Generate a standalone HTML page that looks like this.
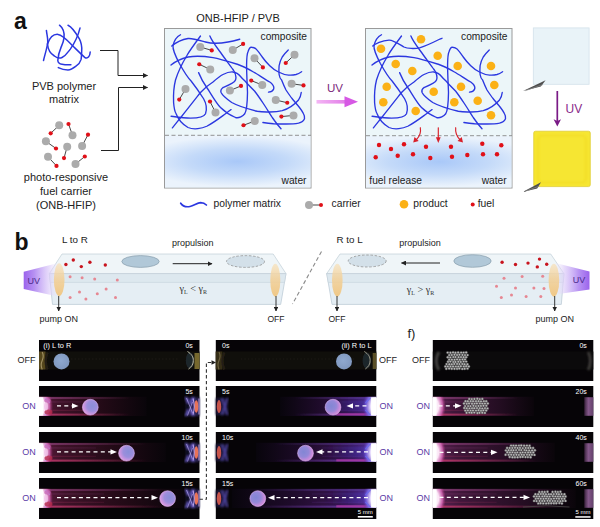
<!DOCTYPE html>
<html lang="en"><head><meta charset="utf-8"><title>Figure</title>
<style>
html,body{margin:0;padding:0;background:#fff;}
body{width:600px;height:527px;overflow:hidden;}
svg{display:block;font-family:"Liberation Sans",Arial,sans-serif;}
.ser{font-family:"Liberation Serif","Times New Roman",serif;}
</style></head><body>
<svg width="600" height="527" viewBox="0 0 600 527">
<defs>
<radialGradient id="water" cx="0.5" cy="0.5" r="0.5" gradientTransform="translate(0.5 0.5) scale(1.4 0.97) translate(-0.5 -0.5)">
<stop offset="0" stop-color="#a9c8f8"/><stop offset="0.5" stop-color="#c4daf9"/><stop offset="1" stop-color="#ebf3fc"/>
</radialGradient>
<linearGradient id="uvarrow" x1="0" x2="1" y1="0" y2="0">
<stop offset="0" stop-color="#f4b6f4"/><stop offset="1" stop-color="#e27ee8"/>
</linearGradient>
<linearGradient id="uvL" x1="0" x2="1" y1="0" y2="0">
<stop offset="0" stop-color="#9b63ec"/><stop offset="0.3" stop-color="#b48df2" stop-opacity="0.95"/><stop offset="0.7" stop-color="#ddcdf9" stop-opacity="0.7"/><stop offset="1" stop-color="#f0e8fc" stop-opacity="0"/>
</linearGradient>
<linearGradient id="uvR" x1="1" x2="0" y1="0" y2="0">
<stop offset="0" stop-color="#9b63ec"/><stop offset="0.3" stop-color="#b48df2" stop-opacity="0.95"/><stop offset="0.7" stop-color="#ddcdf9" stop-opacity="0.7"/><stop offset="1" stop-color="#f0e8fc" stop-opacity="0"/>
</linearGradient>
<marker id="ah" viewBox="0 0 10 10" refX="9" refY="5" markerWidth="5" markerHeight="5" orient="auto"><path d="M0,0 L10,5 L0,10 z" fill="#222"/></marker>
<filter id="b1"><feGaussianBlur stdDeviation="1"/></filter>
<filter id="b2"><feGaussianBlur stdDeviation="2"/></filter>
<filter id="b05"><feGaussianBlur stdDeviation="0.5"/></filter>
<radialGradient id="discOff" cx="0.45" cy="0.45" r="0.6"><stop offset="0" stop-color="#8fa9cf"/><stop offset="1" stop-color="#7f97bd"/></radialGradient>
<radialGradient id="discOn" cx="0.62" cy="0.42" r="0.66"><stop offset="0" stop-color="#8a8ed8"/><stop offset="0.5" stop-color="#9c8edc"/><stop offset="0.82" stop-color="#cf96e0"/><stop offset="1" stop-color="#e6a4e6"/></radialGradient>
<radialGradient id="discOn2" cx="0.38" cy="0.42" r="0.66"><stop offset="0" stop-color="#8286d4"/><stop offset="0.5" stop-color="#9488d8"/><stop offset="0.82" stop-color="#c88ada"/><stop offset="1" stop-color="#dc98e2"/></radialGradient>
</defs>
<rect width="600" height="527" fill="#fff"/>

<g id="panel-a">
<text x="14" y="29.3" font-size="23" text-anchor="start" fill="#111" font-weight="bold">a</text>
<g fill="none" stroke="#2b37e0" stroke-width="1.5" stroke-linecap="round">
<path d="M46.4 30.4 C47 36 48.5 40 47.5 44 C46.5 50 44.5 56 43.5 60.5"/>
<path d="M47.5 44 C50 37 54 34 58 34.4 C63 35 68 41 72.6 45.7 C78 51 82 55 85.1 57.7 C88 59 90 56 90.2 52"/>
<path d="M47.5 44 C48 50 51 54 54.4 56 C57 58 60 58.5 62 57.5 C66 55.5 68 52 70.3 49.1 C74 44 78 36 80 28.1"/>
<path d="M59.5 25.2 C63 28 64.5 33 64 37.8 C63.5 42 62 45 61.2 46.9 C59.5 51 58 56 57.8 60.5 C58 63 60 64 62 64.2 C65 64.8 68 64.8 70.9 64.7"/>
<path d="M68 25.2 C72 27 76 33 79.4 38.9 C81.5 43 82 47 81.7 51 C81.5 55 81.5 57 81.1 59.4 C80 63 78 65 76 66.2 C73 68.5 70.5 70 68 70 C64 70 61 69 58.3 67.6"/>
</g>
<text x="64" y="89.5" font-size="11" text-anchor="middle" fill="#222" >PVB polymer</text>
<text x="64" y="102.5" font-size="11" text-anchor="middle" fill="#222" >matrix</text>
<g fill="none" stroke="#222" stroke-width="1">
<path d="M100 50.5 H118 V75.5 H147.5" marker-end="url(#ah)"/>
<path d="M101 150.5 H118.5 V87.5 H147.5" marker-end="url(#ah)"/>
</g>
<line x1="59.2" y1="125.3" x2="50.7" y2="133.3" stroke="#333" stroke-width="0.9"/>
<circle cx="59.2" cy="125.3" r="4.0" fill="#ababab"/>
<circle cx="50.7" cy="133.3" r="2.1" fill="#e01018"/>
<line x1="72.5" y1="135.2" x2="68.5" y2="124" stroke="#333" stroke-width="0.9"/>
<circle cx="72.5" cy="135.2" r="4.0" fill="#ababab"/>
<circle cx="68.5" cy="124" r="2.1" fill="#e01018"/>
<line x1="45.9" y1="141.3" x2="56" y2="148.5" stroke="#333" stroke-width="0.9"/>
<circle cx="45.9" cy="141.3" r="4.0" fill="#ababab"/>
<circle cx="56" cy="148.5" r="2.1" fill="#e01018"/>
<line x1="67.2" y1="146.7" x2="64" y2="158.1" stroke="#333" stroke-width="0.9"/>
<circle cx="67.2" cy="146.7" r="4.0" fill="#ababab"/>
<circle cx="64" cy="158.1" r="2.1" fill="#e01018"/>
<line x1="82.1" y1="145.9" x2="88" y2="134.7" stroke="#333" stroke-width="0.9"/>
<circle cx="82.1" cy="145.9" r="4.0" fill="#ababab"/>
<circle cx="88" cy="134.7" r="2.1" fill="#e01018"/>
<line x1="48" y1="156.8" x2="56.5" y2="165.9" stroke="#333" stroke-width="0.9"/>
<circle cx="48" cy="156.8" r="4.0" fill="#ababab"/>
<circle cx="56.5" cy="165.9" r="2.1" fill="#e01018"/>
<line x1="75.5" y1="164" x2="84.8" y2="156.5" stroke="#333" stroke-width="0.9"/>
<circle cx="75.5" cy="164" r="4.0" fill="#ababab"/>
<circle cx="84.8" cy="156.5" r="2.1" fill="#e01018"/>
<text x="66" y="181" font-size="11" text-anchor="middle" fill="#222" >photo-responsive</text>
<text x="66" y="195" font-size="11" text-anchor="middle" fill="#222" >fuel carrier</text>
<text x="66" y="209" font-size="11" text-anchor="middle" fill="#222" >(ONB-HFIP)</text>
<text x="238" y="21.5" font-size="11" text-anchor="middle" fill="#222" >ONB-HFIP / PVB</text>
<rect x="164.5" y="28.5" width="146.5" height="159.5" fill="#ecf6f9" stroke="#9a9a9a" stroke-width="1"/>
<rect x="165" y="135.5" width="145.5" height="52" fill="url(#water)"/>
<line x1="165" y1="135.3" x2="311" y2="135.3" stroke="#888" stroke-width="0.9" stroke-dasharray="4 2.5"/>
<text x="307" y="40" font-size="10.2" text-anchor="end" fill="#222" >composite</text>
<text x="306.5" y="183.5" font-size="10.2" text-anchor="end" fill="#222" >water</text>
<g fill="none" stroke="#2b37e0" stroke-width="1.35" stroke-linecap="round" transform="translate(0 0)">
<path d="M180.5 34.75 C177 36.5 174 41 173 45.75 C172.5 50 176 57 179.25 63.25 C183 70 187 77 191.1 81 C195 86 200 93 203.6 98.75 C206 103 207.5 108 205.5 113.75 C204 117 198 118 190.5 118.1 C184 118 177 117 171.1 116.25"/>
<path d="M171.75 46 C176 42.5 182 39.5 188 38.5 C193 38 200 40.5 205.5 42 C211 43.5 220 43.5 228 42 C232 41.3 237 40 239.75 39.25"/>
<path d="M200.5 36 C196 42 190 50 186.75 55.75 C183 62 178 72 175.5 80 C174 86 173.3 96 173.6 102.5 C174 108 175 112 176.1 113.75 C178 119 182 124 188 127.5 C194 130 202 128.5 206.75 126.25 C214 122.5 221 117 225.5 113.75 C228 112 230 110.5 231.1 109.6"/>
<path d="M171 65.1 C174 62.5 182 58.5 188 57 C194 56 206 56.5 213 57.6 C220 58.8 230 62 238 64.5 C244 66.5 250 70 253.5 72 C258 74.5 266 80 269.75 82 C272.5 84 274.5 87 273.5 89.4 C272.5 91.5 270.5 92 268.5 92.1"/>
<path d="M209.9 36 C211 39 215 45 219.25 50.75 C223 56 229 64 233 69.5 C235.5 73 236.5 77 235.5 80 C234.5 83 228 85.5 223 87.5 C221 89 220.5 91 221.1 92.5 C222 94.5 226 98.5 231.75 102.5 C238 106 250 109.5 257.25 111.25 C264 112.6 276 112 282.25 110.6 C288 109 295 104 298.5 100 C300.5 97 301 95 301.25 92.5"/>
<path d="M198.6 72.6 C200 76 202 81 206.75 87.5 C210 92 216 103 220.5 107.5 C225 112 232 116 235.5 117.5 C239 118.5 243 116 244.75 113.75 C247 110 247.4 100 247.5 92.5 C247.3 86 246.5 72 246.6 64.5 C246.7 58 247 54 247.9 52 C249 48.5 250.5 47 251.6 47.25 C253.5 47.5 255 48 256 48.9 C258.5 51.5 260.5 54.5 262.25 57 C265 61 268 64 269.75 65.75 C273 69 276 70.8 278.5 72 C282 73.8 286 75 288.5 75.1 C291 75.3 294 75 296 74.5 C298.5 73.8 300.5 72.5 301.6 71.75"/>
<path d="M172.4 127.9 C176 123.5 179 119.5 181.75 116.25 C186 111 195 99.5 200.5 92.5 C204 88.5 209 84.5 213 82 C217 78.5 220 76 223 74.5 C227 72.5 231 71.8 233 72 C236 72.2 238.5 74 241 77 C243 79.3 245 81 246.3 82.5 C249 85.5 252 88.5 254.75 91.25 C258 95.5 261 100 263.5 103.75 C267 109 270 114 272.25 117.5 C275 121.5 278 125.5 281 128.75"/>
<path d="M288.25 49.9 C286 52 284 54.5 282.25 57 C280.5 60 279.5 63 279.1 65.75 C278.8 69 278.8 72 279.1 74.5 C279.5 77 280.5 79 281.6 80 C283 83.5 284.5 87 286 90 C288 93 290 96 292.25 98.75 C294.5 101.5 296.5 104 298.5 106.25 C300.5 108.8 302.5 111.5 303.5 113.75 C304.5 115.5 304.8 117 304.5 118.75 C303.5 121.5 301 122.5 298.5 123.1 C294 124 290 124 286 124 C282 124 278 123.9 273.5 123.75 C270 123.5 266 123 262.9 122.5"/>
</g>
<line x1="200.25" y1="47" x2="211.75" y2="50.4" stroke="#333" stroke-width="0.9"/>
<circle cx="200.25" cy="47" r="4" fill="#ababab"/>
<circle cx="211.75" cy="50.4" r="2.1" fill="#e01018"/>
<line x1="232.75" y1="50.1" x2="243.1" y2="43.9" stroke="#333" stroke-width="0.9"/>
<circle cx="232.75" cy="50.1" r="4" fill="#ababab"/>
<circle cx="243.1" cy="43.9" r="2.1" fill="#e01018"/>
<line x1="210.25" y1="69.5" x2="199.25" y2="64.25" stroke="#333" stroke-width="0.9"/>
<circle cx="210.25" cy="69.5" r="4" fill="#ababab"/>
<circle cx="199.25" cy="64.25" r="2.1" fill="#e01018"/>
<line x1="185.5" y1="89" x2="179.25" y2="99.6" stroke="#333" stroke-width="0.9"/>
<circle cx="185.5" cy="89" r="4" fill="#ababab"/>
<circle cx="179.25" cy="99.6" r="2.1" fill="#e01018"/>
<line x1="215.5" y1="112.5" x2="210" y2="101.5" stroke="#333" stroke-width="0.9"/>
<circle cx="215.5" cy="112.5" r="4" fill="#ababab"/>
<circle cx="210" cy="101.5" r="2.1" fill="#e01018"/>
<line x1="229.9" y1="90.6" x2="241" y2="85.9" stroke="#333" stroke-width="0.9"/>
<circle cx="229.9" cy="90.6" r="4" fill="#ababab"/>
<circle cx="241" cy="85.9" r="2.1" fill="#e01018"/>
<line x1="254.5" y1="58.25" x2="262.9" y2="67.4" stroke="#333" stroke-width="0.9"/>
<circle cx="254.5" cy="58.25" r="4" fill="#ababab"/>
<circle cx="262.9" cy="67.4" r="2.1" fill="#e01018"/>
<line x1="294.5" y1="54.75" x2="285.75" y2="63" stroke="#333" stroke-width="0.9"/>
<circle cx="294.5" cy="54.75" r="4" fill="#ababab"/>
<circle cx="285.75" cy="63" r="2.1" fill="#e01018"/>
<line x1="262.25" y1="85" x2="251.25" y2="80.6" stroke="#333" stroke-width="0.9"/>
<circle cx="262.25" cy="85" r="4" fill="#ababab"/>
<circle cx="251.25" cy="80.6" r="2.1" fill="#e01018"/>
<line x1="291.6" y1="83.75" x2="303.5" y2="85.4" stroke="#333" stroke-width="0.9"/>
<circle cx="291.6" cy="83.75" r="4" fill="#ababab"/>
<circle cx="303.5" cy="85.4" r="2.1" fill="#e01018"/>
<line x1="275.75" y1="100" x2="287.25" y2="102.75" stroke="#333" stroke-width="0.9"/>
<circle cx="275.75" cy="100" r="4" fill="#ababab"/>
<circle cx="287.25" cy="102.75" r="2.1" fill="#e01018"/>
<line x1="293.5" y1="115.4" x2="281.4" y2="116.6" stroke="#333" stroke-width="0.9"/>
<circle cx="293.5" cy="115.4" r="4" fill="#ababab"/>
<circle cx="281.4" cy="116.6" r="2.1" fill="#e01018"/>
<line x1="254.75" y1="121" x2="243.5" y2="125.25" stroke="#333" stroke-width="0.9"/>
<circle cx="254.75" cy="121" r="4" fill="#ababab"/>
<circle cx="243.5" cy="125.25" r="2.1" fill="#e01018"/>
<path d="M180.7 203.2 C182.5 206 186 207.2 190 206.5 C194 205.8 197 202.8 200.7 202.7 C203 202.7 205 203.6 206.4 205" fill="none" stroke="#2b37e0" stroke-width="1.7" stroke-linecap="round"/>
<text x="213.5" y="207.3" font-size="10.3" text-anchor="start" fill="#222" >polymer matrix</text>
<line x1="309" y1="205" x2="321" y2="205" stroke="#333" stroke-width="0.9"/>
<circle cx="309" cy="205" r="4" fill="#ababab"/>
<circle cx="321" cy="205" r="2" fill="#e01018"/>
<text x="331.5" y="207.3" font-size="10.3" text-anchor="start" fill="#222" >carrier</text>
<circle cx="404" cy="204.3" r="4.3" fill="#fbb116"/>
<text x="413.3" y="207.3" font-size="10.3" text-anchor="start" fill="#222" >product</text>
<circle cx="472.7" cy="204.6" r="2" fill="#e01018"/>
<text x="477.7" y="207.3" font-size="10.3" text-anchor="start" fill="#222" >fuel</text>
<text x="335" y="91.8" font-size="11.6" text-anchor="middle" fill="#7c2a7c" >UV</text>
<rect x="316.5" y="100" width="29" height="3.6" fill="url(#uvarrow)"/>
<path d="M344.5 96.2 L358 101.8 L344.5 107.3 z" fill="#d658e4"/>
<rect x="365.5" y="28.5" width="146.5" height="159.5" fill="#ecf6f9" stroke="#9a9a9a" stroke-width="1"/>
<rect x="366" y="136" width="145.5" height="51.5" fill="url(#water)"/>
<line x1="366" y1="135.7" x2="512" y2="135.7" stroke="#888" stroke-width="0.9" stroke-dasharray="4 2.5"/>
<text x="507.5" y="40" font-size="10.2" text-anchor="end" fill="#222" >composite</text>
<text x="506.7" y="183.5" font-size="10.2" text-anchor="end" fill="#222" >water</text>
<text x="369.3" y="183.5" font-size="10.2" text-anchor="start" fill="#222" >fuel release</text>
<g fill="none" stroke="#2b37e0" stroke-width="1.35" stroke-linecap="round" transform="translate(201 0)">
<path d="M180.5 34.75 C177 36.5 174 41 173 45.75 C172.5 50 176 57 179.25 63.25 C183 70 187 77 191.1 81 C195 86 200 93 203.6 98.75 C206 103 207.5 108 205.5 113.75 C204 117 198 118 190.5 118.1 C184 118 177 117 171.1 116.25"/>
<path d="M171.75 46 C174 43.5 181 40.5 188 40.1 C192 40 198 44 203 47 C206 48.6 214 49 219.25 47.6 C224 46.2 233 42 238 39.5 C239 39 240 38.6 241 38.3"/>
<path d="M200.5 36 C196 42 190 50 186.75 55.75 C183 62 178 72 175.5 80 C174 86 173.3 96 173.6 102.5 C174 108 175 112 176.1 113.75 C178 119 182 124 188 127.5 C194 130 202 128.5 206.75 126.25 C214 122.5 221 117 225.5 113.75 C228 112 230 110.5 231.1 109.6"/>
<path d="M171 65.1 C174 62.5 182 58.5 188 57 C194 56 206 56.5 213 57.6 C220 58.8 230 62 238 64.5 C244 66.5 250 70 253.5 72 C258 74.5 266 80 269.75 82 C272.5 84 274.5 87 273.5 89.4 C272.5 91.5 270.5 92 268.5 92.1"/>
<path d="M209.9 36 C211 39 215 45 219.25 50.75 C223 56 229 64 233 69.5 C235.5 73 236.5 77 235.5 80 C234.5 83 228 85.5 223 87.5 C221 89 220.5 91 221.1 92.5 C222 94.5 226 98.5 231.75 102.5 C238 106 250 109.5 257.25 111.25 C264 112.6 276 112 282.25 110.6 C288 109 295 104 298.5 100 C300.5 97 301 95 301.25 92.5"/>
<path d="M198.6 72.6 C200 76 202 81 206.75 87.5 C210 92 216 103 220.5 107.5 C225 112 232 116 235.5 117.5 C239 118.5 243 116 244.75 113.75 C247 110 247.4 100 247.5 92.5 C247.3 86 246.5 72 246.6 64.5 C246.7 58 247 54 247.9 52 C249 48.5 250.5 47 251.6 47.25 C253.5 47.5 255 48 256 48.9 C258.5 51.5 260.5 54.5 262.25 57 C265 61 268 64 269.75 65.75 C273 69 276 70.8 278.5 72 C282 73.8 286 75 288.5 75.1 C291 75.3 294 75 296 74.5 C298.5 73.8 300.5 72.5 301.6 71.75"/>
<path d="M172.4 127.9 C176 123.5 179 119.5 181.75 116.25 C186 111 195 99.5 200.5 92.5 C204 88.5 209 84.5 213 82 C217 78.5 220 76 223 74.5 C227 72.5 231 71.8 233 72 C236 72.2 238.5 74 241 77 C243 79.3 245 81 246.3 82.5 C249 85.5 252 88.5 254.75 91.25 C258 95.5 261 100 263.5 103.75 C267 109 270 114 272.25 117.5 C275 121.5 278 125.5 281 128.75"/>
<path d="M288.25 49.9 C286 52 284 54.5 282.25 57 C280.5 60 279.5 63 279.1 65.75 C278.8 69 278.8 72 279.1 74.5 C279.5 77 280.5 79 281.6 80 C283 83.5 284.5 87 286 90 C288 93 290 96 292.25 98.75 C294.5 101.5 296.5 104 298.5 106.25 C300.5 108.8 302.5 111.5 303.5 113.75 C304.5 115.5 304.8 117 304.5 118.75 C303.5 121.5 301 122.5 298.5 123.1 C294 124 290 124 286 124 C282 124 278 123.9 273.5 123.75 C270 123.5 266 123 262.9 122.5"/>
</g>
<circle cx="421" cy="39.3" r="4.3" fill="#fbb116"/>
<circle cx="381" cy="48.7" r="4.3" fill="#fbb116"/>
<circle cx="437.7" cy="55.7" r="4.3" fill="#fbb116"/>
<circle cx="395.7" cy="64" r="4.3" fill="#fbb116"/>
<circle cx="457.7" cy="66" r="4.3" fill="#fbb116"/>
<circle cx="491" cy="66" r="4.3" fill="#fbb116"/>
<circle cx="412.3" cy="71" r="4.3" fill="#fbb116"/>
<circle cx="386.7" cy="86.7" r="4.3" fill="#fbb116"/>
<circle cx="461" cy="86.7" r="4.3" fill="#fbb116"/>
<circle cx="494.3" cy="85" r="4.3" fill="#fbb116"/>
<circle cx="433.7" cy="91.7" r="4.3" fill="#fbb116"/>
<circle cx="383.3" cy="102.3" r="4.3" fill="#fbb116"/>
<circle cx="454.3" cy="102.3" r="4.3" fill="#fbb116"/>
<circle cx="477.7" cy="100.7" r="4.3" fill="#fbb116"/>
<circle cx="415.7" cy="111" r="4.3" fill="#fbb116"/>
<circle cx="491" cy="115.3" r="4.3" fill="#fbb116"/>
<g fill="none" stroke="#d8202a" stroke-width="1.15" stroke-linecap="round">
<path d="M420.3 127.7 C421.2 132.5 420 136 416.5 139.5"/><path d="M413.2 142.6 l1.3 -5.6 l4.2 3.9 z" fill="#d8202a" stroke="none"/>
<path d="M438.3 127.7 V138"/><path d="M438.3 143 l-2.4 -5.8 h4.8 z" fill="#d8202a" stroke="none"/>
<path d="M455.7 127.7 C455.2 132.5 456.5 136 459.8 139.5"/><path d="M463 142.6 l-1.3 -5.6 l-4.2 3.9 z" fill="#d8202a" stroke="none"/>
</g>
<circle cx="379" cy="145" r="2.2" fill="#e01018"/>
<circle cx="391" cy="149" r="2.2" fill="#e01018"/>
<circle cx="404" cy="144.3" r="2.2" fill="#e01018"/>
<circle cx="426" cy="146.7" r="2.2" fill="#e01018"/>
<circle cx="451" cy="146.7" r="2.2" fill="#e01018"/>
<circle cx="482.3" cy="143.7" r="2.2" fill="#e01018"/>
<circle cx="501.3" cy="145.3" r="2.2" fill="#e01018"/>
<circle cx="375.7" cy="157.3" r="2.2" fill="#e01018"/>
<circle cx="397.7" cy="155.7" r="2.2" fill="#e01018"/>
<circle cx="413" cy="154.3" r="2.2" fill="#e01018"/>
<circle cx="430.3" cy="158" r="2.2" fill="#e01018"/>
<circle cx="452" cy="156.7" r="2.2" fill="#e01018"/>
<circle cx="467.3" cy="155" r="2.2" fill="#e01018"/>
<circle cx="483" cy="154.3" r="2.2" fill="#e01018"/>
<circle cx="497" cy="154.3" r="2.2" fill="#e01018"/>
<rect x="533.3" y="27.9" width="55.8" height="56.4" fill="#e9f3f8" stroke="#d3e2ea" stroke-width="0.8"/>
<path d="M523 91 L545.6 80.3 L540.8 86.6 z" fill="#4e4e4e"/><path d="M525.5 90.6 L543 84.5" stroke="#8a8a8a" stroke-width="0.7"/>
<line x1="557.3" y1="91" x2="557.3" y2="121" stroke="#7a1a86" stroke-width="1.7"/><path d="M557.3 126.6 l-3.7 -7.4 l3.7 1.7 l3.7 -1.7 z" fill="#7a1a86"/>
<text x="565.5" y="113" font-size="12" text-anchor="start" fill="#8a2a8a" >UV</text>
<rect x="533.7" y="131.2" width="56.6" height="55.4" rx="1.8" fill="#f6e632" stroke="#dcc82c" stroke-width="0.7"/>
<rect x="538" y="135.5" width="48" height="47" rx="4" fill="none" stroke="#f2db26" stroke-width="1.6" filter="url(#b1)"/>
<path d="M522.6 191.9 L541 182.3 L537.2 188.6 z" fill="#4e4e4e"/><path d="M525 191.3 L539 186.2" stroke="#8a8a8a" stroke-width="0.7"/>
</g><g id="panel-b">
<defs><linearGradient id="pumpg" x1="0" x2="0" y1="0" y2="1"><stop offset="0" stop-color="#f7e0b8" stop-opacity="0.7"/><stop offset="0.45" stop-color="#f3d097" stop-opacity="0.85"/><stop offset="1" stop-color="#f0c47c" stop-opacity="0.92"/></linearGradient></defs>
<text x="14.5" y="249.8" font-size="23" text-anchor="start" fill="#111" font-weight="bold">b</text>
<text x="62" y="243" font-size="9.8" text-anchor="start" fill="#222" >L to R</text>
<text x="336.5" y="243" font-size="9.8" text-anchor="start" fill="#222" >R to L</text>
<line x1="321.5" y1="251.5" x2="292.5" y2="304" stroke="#8a8a8a" stroke-width="1.1" stroke-dasharray="4 2.6"/>
<path d="M62 254 L273.2 254 L286 273.6 L49.3 273.6 z" fill="#eff5f8" stroke="#c0ced7" stroke-width="0.7"/>
<path d="M49.3 273.6 L286 273.6 L280.7 304.4 L52.5 304.4 z" fill="#e5eef4" stroke="#b8c7d2" stroke-width="0.7"/>
<path d="M49.3 273.6 L286 273.6 L284.516 282.40000000000003 L50.196 282.40000000000003 z" fill="#dde8ef" stroke="#c0cdd7" stroke-width="0.5"/>
<path d="M23.7 271.7 L60 262.5 L60 297 L23.7 289 z" fill="url(#uvL)"/>
<text x="33.8" y="284.3" font-size="9" text-anchor="middle" fill="#4b2a8a" >UV</text>
<ellipse cx="59.2" cy="279.7" rx="5.3" ry="16.5" fill="url(#pumpg)"/>
<ellipse cx="275.3" cy="280.2" rx="5" ry="16.5" fill="url(#pumpg)"/>
<circle cx="65.9" cy="264.5" r="1.7" fill="#c8141e"/>
<circle cx="73.3" cy="260" r="1.7" fill="#c8141e"/>
<circle cx="81.3" cy="266.6" r="1.7" fill="#c8141e"/>
<circle cx="89.9" cy="262.3" r="1.7" fill="#c8141e"/>
<circle cx="105.3" cy="265" r="1.7" fill="#c8141e"/>
<circle cx="70.1" cy="276.7" r="1.5" fill="#e68792"/>
<circle cx="82.1" cy="277.8" r="1.5" fill="#e68792"/>
<circle cx="94.7" cy="279.1" r="1.5" fill="#e68792"/>
<circle cx="117.3" cy="280" r="1.5" fill="#e68792"/>
<circle cx="79.5" cy="291.9" r="1.5" fill="#e68792"/>
<circle cx="70.1" cy="297.5" r="1.5" fill="#e68792"/>
<circle cx="85.9" cy="299.1" r="1.5" fill="#e68792"/>
<circle cx="97.3" cy="293.8" r="1.5" fill="#e68792"/>
<circle cx="106.1" cy="289" r="1.5" fill="#e68792"/>
<circle cx="115.5" cy="297.5" r="1.5" fill="#e68792"/>
<ellipse cx="140.5" cy="261.5" rx="18.7" ry="5.9" fill="#b1c8d8" stroke="#889eac" stroke-width="0.7"/>
<ellipse cx="245.5" cy="261.5" rx="19" ry="5.9" fill="#d3e0e9" stroke="#8a8a8a" stroke-width="0.7" stroke-dasharray="2.5 1.6"/>
<text x="192.7" y="246" font-size="9" text-anchor="middle" fill="#222" >propulsion</text>
<line x1="172.7" y1="263.7" x2="212" y2="263.7" stroke="#222" stroke-width="1" marker-end="url(#ah)"/>
<text x="179.5" y="292" font-size="10.2" fill="#333" class="ser">γ<tspan font-size="6" dy="1.5">L</tspan><tspan dy="-1.5" font-size="10.2"> &lt; γ</tspan><tspan font-size="6" dy="1.5">R</tspan></text>
<line x1="58.7" y1="296" x2="58.7" y2="311" stroke="#222" stroke-width="0.9" marker-end="url(#ah)"/>
<line x1="276" y1="296" x2="276" y2="311" stroke="#222" stroke-width="0.9" marker-end="url(#ah)"/>
<text x="58.7" y="321.5" font-size="9" text-anchor="middle" fill="#222" >pump ON</text>
<text x="276" y="321.5" font-size="8.6" text-anchor="middle" fill="#222" >OFF</text>
<path d="M340 254 L550.7 254 L564 273.6 L326.7 273.6 z" fill="#eff5f8" stroke="#c0ced7" stroke-width="0.7"/>
<path d="M326.7 273.6 L564 273.6 L561.3 304.4 L332 304.4 z" fill="#e5eef4" stroke="#b8c7d2" stroke-width="0.7"/>
<path d="M326.7 273.6 L564 273.6 L563.244 282.40000000000003 L328.18399999999997 282.40000000000003 z" fill="#dde8ef" stroke="#c0cdd7" stroke-width="0.5"/>
<path d="M589.5 271.5 L553.5 262.5 L553.5 294.8 L589.5 289.5 z" fill="url(#uvR)"/>
<text x="579" y="283" font-size="9" text-anchor="middle" fill="#4b2a8a" >UV</text>
<ellipse cx="337.3" cy="280.2" rx="5.3" ry="16.5" fill="url(#pumpg)"/>
<ellipse cx="553.9" cy="280.2" rx="5.3" ry="16.5" fill="url(#pumpg)"/>
<circle cx="502.1" cy="262.3" r="1.7" fill="#c8141e"/>
<circle cx="515.5" cy="264.5" r="1.7" fill="#c8141e"/>
<circle cx="528" cy="263.1" r="1.7" fill="#c8141e"/>
<circle cx="539.5" cy="259.1" r="1.7" fill="#c8141e"/>
<circle cx="537.3" cy="266.9" r="1.7" fill="#c8141e"/>
<circle cx="546.7" cy="264.2" r="1.7" fill="#c8141e"/>
<circle cx="504" cy="278.3" r="1.5" fill="#e68792"/>
<circle cx="522.1" cy="276.5" r="1.5" fill="#e68792"/>
<circle cx="542.7" cy="276.2" r="1.5" fill="#e68792"/>
<circle cx="496.5" cy="286.3" r="1.5" fill="#e68792"/>
<circle cx="515.5" cy="287.9" r="1.5" fill="#e68792"/>
<circle cx="533.9" cy="287.9" r="1.5" fill="#e68792"/>
<circle cx="544" cy="288.5" r="1.5" fill="#e68792"/>
<circle cx="501.3" cy="297.5" r="1.5" fill="#e68792"/>
<circle cx="511.5" cy="294.9" r="1.5" fill="#e68792"/>
<circle cx="526.1" cy="296.5" r="1.5" fill="#e68792"/>
<circle cx="540.8" cy="296.5" r="1.5" fill="#e68792"/>
<ellipse cx="367.2" cy="261" rx="19" ry="6" fill="#d3e0e9" stroke="#8a8a8a" stroke-width="0.7" stroke-dasharray="2.5 1.6"/>
<ellipse cx="472.5" cy="261" rx="18.7" ry="6.3" fill="#b1c8d8" stroke="#889eac" stroke-width="0.7"/>
<text x="420" y="246.3" font-size="9" text-anchor="middle" fill="#222" >propulsion</text>
<line x1="440" y1="263" x2="401.5" y2="263" stroke="#222" stroke-width="1" marker-end="url(#ah)"/>
<text x="406.7" y="293" font-size="10.2" fill="#333" class="ser">γ<tspan font-size="6" dy="1.5">L</tspan><tspan dy="-1.5" font-size="10.2"> &gt; γ</tspan><tspan font-size="6" dy="1.5">R</tspan></text>
<line x1="337" y1="296" x2="337" y2="311" stroke="#222" stroke-width="0.9" marker-end="url(#ah)"/>
<line x1="554.7" y1="296" x2="554.7" y2="311" stroke="#222" stroke-width="0.9" marker-end="url(#ah)"/>
<text x="337" y="321.5" font-size="8.6" text-anchor="middle" fill="#222" >OFF</text>
<text x="554.8" y="321.5" font-size="9" text-anchor="middle" fill="#222" >pump ON</text>
<text x="407.5" y="337.5" font-size="13" text-anchor="start" fill="#222" >f)</text>
</g><g id="panel-photos">
<defs>
<linearGradient id="glowL" x1="0" x2="1" y1="0" y2="0"><stop offset="0" stop-color="#5e1c40"/><stop offset="0.18" stop-color="#3e1228"/><stop offset="0.6" stop-color="#220a16"/><stop offset="1" stop-color="#09050a"/></linearGradient>
<linearGradient id="glowR" x1="1" x2="0" y1="0" y2="0"><stop offset="0" stop-color="#62287a"/><stop offset="0.18" stop-color="#3c1654"/><stop offset="0.6" stop-color="#1e0b2a"/><stop offset="1" stop-color="#08050c"/></linearGradient>
<linearGradient id="glowF" x1="0" x2="1" y1="0" y2="0"><stop offset="0" stop-color="#602458"/><stop offset="0.2" stop-color="#40173a"/><stop offset="0.65" stop-color="#240d22"/><stop offset="1" stop-color="#0a050a"/></linearGradient>
<linearGradient id="blueR" x1="1" x2="0" y1="0" y2="0"><stop offset="0" stop-color="#4a3cc8" stop-opacity="0.7"/><stop offset="0.5" stop-color="#3a2aa0" stop-opacity="0.4"/><stop offset="1" stop-color="#2a1a70" stop-opacity="0"/></linearGradient>
<linearGradient id="pinkbar" x1="0" x2="1" y1="0" y2="0"><stop offset="0" stop-color="#3a223c"/><stop offset="0.45" stop-color="#84588a"/><stop offset="1" stop-color="#62406a"/></linearGradient>
<radialGradient id="whiteL" cx="0" cy="0.5" r="1"><stop offset="0" stop-color="#fff"/><stop offset="0.45" stop-color="#fbe6f6"/><stop offset="0.75" stop-color="#e070c0" stop-opacity="0.8"/><stop offset="1" stop-color="#b0307a" stop-opacity="0"/></radialGradient>
<radialGradient id="whiteR" cx="1" cy="0.5" r="1"><stop offset="0" stop-color="#fff"/><stop offset="0.4" stop-color="#efe6ff"/><stop offset="0.75" stop-color="#7a60e0" stop-opacity="0.8"/><stop offset="1" stop-color="#5030a0" stop-opacity="0"/></radialGradient>
</defs>
<rect x="39" y="340" width="160.5" height="41" fill="#060407"/>
<rect x="39" y="386" width="160.5" height="41" fill="#060407"/>
<rect x="39" y="432" width="160.5" height="41" fill="#060407"/>
<rect x="39" y="478" width="160.5" height="41" fill="#060407"/>
<rect x="39" y="351.5" width="160.5" height="18" fill="#100f0b"/>
<line x1="64" y1="359" x2="179.5" y2="359" stroke="#1c1a16" stroke-width="1" stroke-dasharray="1.5 2"/>
<g filter="url(#b05)"><rect x="39" y="351.5" width="6.5" height="18" fill="#54461f"/><path d="M42.2 352 q2 4 0 8.5 q-2 4.5 0 9" stroke="#a39362" stroke-width="1.1" fill="none"/><path d="M47.5 352.5 q-3.5 8.5 0 17" stroke="#241f12" stroke-width="2.4" fill="none"/>
<rect x="194.5" y="353" width="5" height="16" fill="#76682e"/><ellipse cx="190.0" cy="360.5" rx="4.2" ry="8" fill="#1f252b"/><path d="M187.5 351.5 C191.5 354 193.5 357 193.3 360.5 C193.5 364 191.5 367 188.5 369" stroke="#bdbda6" stroke-width="1" fill="none"/></g>
<rect x="39" y="396.8" width="107.53500000000001" height="19.2" fill="url(#glowL)"/>
<defs><linearGradient id="st39_386t" gradientUnits="userSpaceOnUse" x1="45" x2="130.40475" y1="0" y2="0"><stop offset="0" stop-color="#8a4078" stop-opacity="0.9"/><stop offset="1" stop-color="#8a4078" stop-opacity="0"/></linearGradient>
<linearGradient id="st39_386b" gradientUnits="userSpaceOnUse" x1="45" x2="130.40475" y1="0" y2="0"><stop offset="0" stop-color="#b03462" stop-opacity="1"/><stop offset="1" stop-color="#b03462" stop-opacity="0"/></linearGradient></defs>
<g filter="url(#b05)">
<rect x="45" y="397.2" width="85.40475" height="1.6" fill="url(#st39_386t)"/>
<rect x="45" y="413.6" width="85.40475" height="1.9" fill="url(#st39_386b)"/>
<rect x="45" y="401.5" width="42.702375" height="0.9" fill="url(#st39_386t)" opacity="0.45"/>
<rect x="45" y="409.8" width="42.702375" height="0.9" fill="url(#st39_386b)" opacity="0.4"/>
</g>
<g filter="url(#b05)"><rect x="39" y="396.8" width="14" height="19.2" fill="url(#whiteL)"/>
<path d="M45 398 l5 5 M45 415 l5 -5" stroke="#b8a0f0" stroke-width="1.2" stroke-opacity="0.6"/>
<ellipse cx="48.5" cy="412" rx="4" ry="2.6" fill="#b82c4c" opacity="0.8"/><ellipse cx="47.5" cy="400.5" rx="3.2" ry="2.2" fill="#c868b8" opacity="0.75"/><ellipse cx="46" cy="406.5" rx="2" ry="4" fill="#f0c0e8" opacity="0.8"/></g>
<rect x="38.5" y="397.4" width="4.6" height="18" fill="#fff" filter="url(#b05)"/>
<g filter="url(#b1)"><rect x="186.0" y="397.5" width="13.5" height="18.5" fill="#2a2052"/><path d="M185.5 397 L193.5 416 M185.5 416 L193.5 397" stroke="#7466dc" stroke-width="1.8" fill="none"/><ellipse cx="188.5" cy="406.5" rx="2" ry="4" fill="#0c0a18"/></g>
<g filter="url(#b05)"><path d="M186.5 398 L192.5 413 M187.5 415.5 L192.5 402" stroke="#c4b6f6" stroke-width="0.7" fill="none" opacity="0.8"/><ellipse cx="196.3" cy="406.5" rx="2" ry="6.2" fill="#ea7358"/><path d="M193.0 398.5 q2.5 8 0 16" stroke="#b8a2ec" stroke-width="1.1" fill="none"/><rect x="198.5" y="398.5" width="1" height="16" fill="#c4a6ea"/></g>
<rect x="39" y="442.8" width="126.795" height="19.2" fill="url(#glowL)"/>
<defs><linearGradient id="st39_432t" gradientUnits="userSpaceOnUse" x1="45" x2="146.77575000000002" y1="0" y2="0"><stop offset="0" stop-color="#8a4078" stop-opacity="0.9"/><stop offset="1" stop-color="#8a4078" stop-opacity="0"/></linearGradient>
<linearGradient id="st39_432b" gradientUnits="userSpaceOnUse" x1="45" x2="146.77575000000002" y1="0" y2="0"><stop offset="0" stop-color="#b03462" stop-opacity="1"/><stop offset="1" stop-color="#b03462" stop-opacity="0"/></linearGradient></defs>
<g filter="url(#b05)">
<rect x="45" y="443.2" width="101.77575000000002" height="1.6" fill="url(#st39_432t)"/>
<rect x="45" y="459.6" width="101.77575000000002" height="1.9" fill="url(#st39_432b)"/>
<rect x="45" y="447.5" width="50.88787500000001" height="0.9" fill="url(#st39_432t)" opacity="0.45"/>
<rect x="45" y="455.8" width="50.88787500000001" height="0.9" fill="url(#st39_432b)" opacity="0.4"/>
</g>
<g filter="url(#b05)"><rect x="39" y="442.8" width="14" height="19.2" fill="url(#whiteL)"/>
<path d="M45 444 l5 5 M45 461 l5 -5" stroke="#b8a0f0" stroke-width="1.2" stroke-opacity="0.6"/>
<ellipse cx="48.5" cy="458" rx="4" ry="2.6" fill="#b82c4c" opacity="0.8"/><ellipse cx="47.5" cy="446.5" rx="3.2" ry="2.2" fill="#c868b8" opacity="0.75"/><ellipse cx="46" cy="452.5" rx="2" ry="4" fill="#f0c0e8" opacity="0.8"/></g>
<rect x="38.5" y="443.4" width="4.6" height="18" fill="#fff" filter="url(#b05)"/>
<g filter="url(#b1)"><rect x="186.0" y="443.5" width="13.5" height="18.5" fill="#2a2052"/><path d="M185.5 443 L193.5 462 M185.5 462 L193.5 443" stroke="#7466dc" stroke-width="1.8" fill="none"/><ellipse cx="188.5" cy="452.5" rx="2" ry="4" fill="#0c0a18"/></g>
<g filter="url(#b05)"><path d="M186.5 444 L192.5 459 M187.5 461.5 L192.5 448" stroke="#c4b6f6" stroke-width="0.7" fill="none" opacity="0.8"/><ellipse cx="196.3" cy="452.5" rx="2" ry="6.2" fill="#ea7358"/><path d="M193.0 444.5 q2.5 8 0 16" stroke="#b8a2ec" stroke-width="1.1" fill="none"/><rect x="198.5" y="444.5" width="1" height="16" fill="#c4a6ea"/></g>
<rect x="39" y="488.8" width="146.055" height="19.2" fill="url(#glowL)"/>
<defs><linearGradient id="st39_478t" gradientUnits="userSpaceOnUse" x1="45" x2="163.14675" y1="0" y2="0"><stop offset="0" stop-color="#8a4078" stop-opacity="0.9"/><stop offset="1" stop-color="#8a4078" stop-opacity="0"/></linearGradient>
<linearGradient id="st39_478b" gradientUnits="userSpaceOnUse" x1="45" x2="163.14675" y1="0" y2="0"><stop offset="0" stop-color="#b03462" stop-opacity="1"/><stop offset="1" stop-color="#b03462" stop-opacity="0"/></linearGradient></defs>
<g filter="url(#b05)">
<rect x="45" y="489.2" width="118.14675" height="1.6" fill="url(#st39_478t)"/>
<rect x="45" y="505.6" width="118.14675" height="1.9" fill="url(#st39_478b)"/>
<rect x="45" y="493.5" width="59.073375" height="0.9" fill="url(#st39_478t)" opacity="0.45"/>
<rect x="45" y="501.8" width="59.073375" height="0.9" fill="url(#st39_478b)" opacity="0.4"/>
</g>
<g filter="url(#b05)"><rect x="39" y="488.8" width="14" height="19.2" fill="url(#whiteL)"/>
<path d="M45 490 l5 5 M45 507 l5 -5" stroke="#b8a0f0" stroke-width="1.2" stroke-opacity="0.6"/>
<ellipse cx="48.5" cy="504" rx="4" ry="2.6" fill="#b82c4c" opacity="0.8"/><ellipse cx="47.5" cy="492.5" rx="3.2" ry="2.2" fill="#c868b8" opacity="0.75"/><ellipse cx="46" cy="498.5" rx="2" ry="4" fill="#f0c0e8" opacity="0.8"/></g>
<rect x="38.5" y="489.4" width="4.6" height="18" fill="#fff" filter="url(#b05)"/>
<g filter="url(#b1)"><rect x="186.0" y="489.5" width="13.5" height="18.5" fill="#2a2052"/><path d="M185.5 489 L193.5 508 M185.5 508 L193.5 489" stroke="#7466dc" stroke-width="1.8" fill="none"/><ellipse cx="188.5" cy="498.5" rx="2" ry="4" fill="#0c0a18"/></g>
<g filter="url(#b05)"><path d="M186.5 490 L192.5 505 M187.5 507.5 L192.5 494" stroke="#c4b6f6" stroke-width="0.7" fill="none" opacity="0.8"/><ellipse cx="196.3" cy="498.5" rx="2" ry="6.2" fill="#ea7358"/><path d="M193.0 490.5 q2.5 8 0 16" stroke="#b8a2ec" stroke-width="1.1" fill="none"/><rect x="198.5" y="490.5" width="1" height="16" fill="#c4a6ea"/></g>
<circle cx="61.5" cy="361.4" r="8" fill="url(#discOff)"/>
<circle cx="90.3" cy="407.2" r="7.9" fill="url(#discOn)" stroke="#d8b4ec" stroke-width="0.6"/>
<circle cx="126.5" cy="453.2" r="7.9" fill="url(#discOn)" stroke="#d8b4ec" stroke-width="0.6"/>
<circle cx="167.6" cy="498.6" r="7.9" fill="url(#discOn)" stroke="#d8b4ec" stroke-width="0.6"/>
<line x1="57" y1="405.9" x2="72.5" y2="405.9" stroke="#fff" stroke-width="1.2" stroke-dasharray="4 3.3"/>
<path d="M78.5 405.9 l-6.5 -2.6 v5.2 z" fill="#fff"/>
<line x1="57" y1="451.9" x2="111" y2="451.9" stroke="#fff" stroke-width="1.2" stroke-dasharray="4 3.3"/>
<path d="M117 451.9 l-6.5 -2.6 v5.2 z" fill="#fff"/>
<line x1="57" y1="497.7" x2="152" y2="497.7" stroke="#fff" stroke-width="1.2" stroke-dasharray="4 3.3"/>
<path d="M158 497.7 l-6.5 -2.6 v5.2 z" fill="#fff"/>
<text x="43.3" y="347.6" font-size="7.4" text-anchor="start" fill="#fff" >(i) L to R</text>
<text x="192.8" y="347.8" font-size="7" text-anchor="end" fill="#fff" >0s</text>
<text x="192.8" y="393.8" font-size="7" text-anchor="end" fill="#fff" >5s</text>
<text x="192.8" y="439.8" font-size="7" text-anchor="end" fill="#fff" >10s</text>
<text x="192.8" y="485.8" font-size="7" text-anchor="end" fill="#fff" >15s</text>
<text x="35.6" y="363.3" font-size="9" text-anchor="end" fill="#222" >OFF</text>
<text x="35.8" y="409.1" font-size="9" text-anchor="end" fill="#5a3aa6" >ON</text>
<text x="35.8" y="455.1" font-size="9" text-anchor="end" fill="#5a3aa6" >ON</text>
<text x="35.8" y="501.1" font-size="9" text-anchor="end" fill="#5a3aa6" >ON</text>
<path d="M199.5 499.2 H206.4 V362.5 H212" fill="none" stroke="#333" stroke-width="1.1" stroke-dasharray="3.4 2.4"/>
<path d="M216 362.5 l-4.5 -2.2 v4.4 z" fill="#222"/>
<rect x="215.8" y="340" width="160.5" height="41" fill="#060407"/>
<rect x="215.8" y="386" width="160.5" height="41" fill="#060407"/>
<rect x="215.8" y="432" width="160.5" height="41" fill="#060407"/>
<rect x="215.8" y="478" width="160.5" height="41" fill="#060407"/>
<rect x="215.8" y="351.5" width="160.5" height="18" fill="#100f0b"/>
<line x1="240.8" y1="359" x2="356.3" y2="359" stroke="#1c1a16" stroke-width="1" stroke-dasharray="1.5 2"/>
<g filter="url(#b05)"><rect x="215.8" y="351.5" width="6.5" height="18" fill="#362d16"/><path d="M219.0 352 q2 4 0 8.5 q-2 4.5 0 9" stroke="#6e6340" stroke-width="1.1" fill="none"/><path d="M224.3 352.5 q-3.5 8.5 0 17" stroke="#241f12" stroke-width="2.4" fill="none"/>
<rect x="372.7" y="353" width="3.6" height="16" fill="#5a5026"/><ellipse cx="366.8" cy="360.5" rx="4.2" ry="8" fill="#1f252b"/><path d="M364.3 351.5 C368.3 354 370.3 357 370.1 360.5 C370.3 364 368.3 367 365.3 369" stroke="#9a9a88" stroke-width="1" fill="none"/></g>
<rect x="280.0" y="396.8" width="96.3" height="19.2" fill="url(#glowR)"/>
<defs><linearGradient id="st215_386t" gradientUnits="userSpaceOnUse" x1="370.3" x2="294.44500000000005" y1="0" y2="0"><stop offset="0" stop-color="#5a3a90" stop-opacity="0.9"/><stop offset="1" stop-color="#5a3a90" stop-opacity="0"/></linearGradient>
<linearGradient id="st215_386b" gradientUnits="userSpaceOnUse" x1="370.3" x2="294.44500000000005" y1="0" y2="0"><stop offset="0" stop-color="#6a3aa0" stop-opacity="1"/><stop offset="1" stop-color="#6a3aa0" stop-opacity="0"/></linearGradient></defs>
<g filter="url(#b05)">
<rect x="294.44500000000005" y="397.2" width="75.85499999999996" height="1.6" fill="url(#st215_386t)"/>
<rect x="294.44500000000005" y="413.6" width="75.85499999999996" height="1.9" fill="url(#st215_386b)"/>
<rect x="332.37250000000006" y="401.5" width="37.92749999999995" height="0.9" fill="url(#st215_386t)" opacity="0.45"/>
<rect x="332.37250000000006" y="409.8" width="37.92749999999995" height="0.9" fill="url(#st215_386b)" opacity="0.4"/>
</g>
<rect x="324.3" y="399" width="46" height="13" fill="url(#blueR)" filter="url(#b2)"/>
<rect x="336.3" y="413.2" width="34" height="2.2" fill="#b038a8" opacity="0.75" filter="url(#b05)"/>
<g filter="url(#b05)"><rect x="362.3" y="396.8" width="14" height="19.2" fill="url(#whiteR)"/>
<path d="M370.3 398 l-5 5 M370.3 415 l-5 -5" stroke="#6a6af0" stroke-width="1.3" stroke-opacity="0.8"/></g>
<rect x="371.1" y="397.4" width="5.8" height="18" fill="#fff" filter="url(#b05)"/>
<g filter="url(#b1)"><rect x="215.8" y="398" width="12" height="17" fill="#1e1638"/><path d="M227.8 398 L221.8 415 M227.8 415 L221.8 398" stroke="#5248a8" stroke-width="1.4" fill="none"/></g>
<g filter="url(#b05)"><ellipse cx="219.0" cy="406.5" rx="2.2" ry="6.5" fill="#c8544c"/></g>
<rect x="255.925" y="442.8" width="120.375" height="19.2" fill="url(#glowR)"/>
<defs><linearGradient id="st215_432t" gradientUnits="userSpaceOnUse" x1="370.3" x2="273.98125000000005" y1="0" y2="0"><stop offset="0" stop-color="#5a3a90" stop-opacity="0.9"/><stop offset="1" stop-color="#5a3a90" stop-opacity="0"/></linearGradient>
<linearGradient id="st215_432b" gradientUnits="userSpaceOnUse" x1="370.3" x2="273.98125000000005" y1="0" y2="0"><stop offset="0" stop-color="#6a3aa0" stop-opacity="1"/><stop offset="1" stop-color="#6a3aa0" stop-opacity="0"/></linearGradient></defs>
<g filter="url(#b05)">
<rect x="273.98125000000005" y="443.2" width="96.31874999999997" height="1.6" fill="url(#st215_432t)"/>
<rect x="273.98125000000005" y="459.6" width="96.31874999999997" height="1.9" fill="url(#st215_432b)"/>
<rect x="322.140625" y="447.5" width="48.15937500000001" height="0.9" fill="url(#st215_432t)" opacity="0.45"/>
<rect x="322.140625" y="455.8" width="48.15937500000001" height="0.9" fill="url(#st215_432b)" opacity="0.4"/>
</g>
<rect x="324.3" y="445" width="46" height="13" fill="url(#blueR)" filter="url(#b2)"/>
<rect x="336.3" y="459.2" width="34" height="2.2" fill="#b038a8" opacity="0.75" filter="url(#b05)"/>
<g filter="url(#b05)"><rect x="362.3" y="442.8" width="14" height="19.2" fill="url(#whiteR)"/>
<path d="M370.3 444 l-5 5 M370.3 461 l-5 -5" stroke="#6a6af0" stroke-width="1.3" stroke-opacity="0.8"/></g>
<rect x="371.1" y="443.4" width="5.8" height="18" fill="#fff" filter="url(#b05)"/>
<g filter="url(#b1)"><rect x="215.8" y="444" width="12" height="17" fill="#1e1638"/><path d="M227.8 444 L221.8 461 M227.8 461 L221.8 444" stroke="#5248a8" stroke-width="1.4" fill="none"/></g>
<g filter="url(#b05)"><ellipse cx="219.0" cy="452.5" rx="2.2" ry="6.5" fill="#c8544c"/></g>
<rect x="231.85000000000002" y="488.8" width="144.45" height="19.2" fill="url(#glowR)"/>
<defs><linearGradient id="st215_478t" gradientUnits="userSpaceOnUse" x1="370.3" x2="253.51750000000004" y1="0" y2="0"><stop offset="0" stop-color="#5a3a90" stop-opacity="0.9"/><stop offset="1" stop-color="#5a3a90" stop-opacity="0"/></linearGradient>
<linearGradient id="st215_478b" gradientUnits="userSpaceOnUse" x1="370.3" x2="253.51750000000004" y1="0" y2="0"><stop offset="0" stop-color="#6a3aa0" stop-opacity="1"/><stop offset="1" stop-color="#6a3aa0" stop-opacity="0"/></linearGradient></defs>
<g filter="url(#b05)">
<rect x="253.51750000000004" y="489.2" width="116.78249999999997" height="1.6" fill="url(#st215_478t)"/>
<rect x="253.51750000000004" y="505.6" width="116.78249999999997" height="1.9" fill="url(#st215_478b)"/>
<rect x="311.90875000000005" y="493.5" width="58.39124999999996" height="0.9" fill="url(#st215_478t)" opacity="0.45"/>
<rect x="311.90875000000005" y="501.8" width="58.39124999999996" height="0.9" fill="url(#st215_478b)" opacity="0.4"/>
</g>
<rect x="324.3" y="491" width="46" height="13" fill="url(#blueR)" filter="url(#b2)"/>
<rect x="336.3" y="505.2" width="34" height="2.2" fill="#b038a8" opacity="0.75" filter="url(#b05)"/>
<g filter="url(#b05)"><rect x="362.3" y="488.8" width="14" height="19.2" fill="url(#whiteR)"/>
<path d="M370.3 490 l-5 5 M370.3 507 l-5 -5" stroke="#6a6af0" stroke-width="1.3" stroke-opacity="0.8"/></g>
<rect x="371.1" y="489.4" width="5.8" height="18" fill="#fff" filter="url(#b05)"/>
<g filter="url(#b1)"><rect x="215.8" y="490" width="12" height="17" fill="#1e1638"/><path d="M227.8 490 L221.8 507 M227.8 507 L221.8 490" stroke="#5248a8" stroke-width="1.4" fill="none"/></g>
<g filter="url(#b05)"><ellipse cx="219.0" cy="498.5" rx="2.2" ry="6.5" fill="#c8544c"/></g>
<circle cx="344" cy="361.4" r="8" fill="url(#discOff)"/>
<circle cx="333" cy="407.2" r="7.9" fill="url(#discOn2)" stroke="#d8b4ec" stroke-width="0.6"/>
<circle cx="305.5" cy="453.2" r="7.9" fill="url(#discOn2)" stroke="#d8b4ec" stroke-width="0.6"/>
<circle cx="257.8" cy="498.6" r="7.9" fill="url(#discOn2)" stroke="#d8b4ec" stroke-width="0.6"/>
<line x1="366.5" y1="405.9" x2="352.5" y2="405.9" stroke="#fff" stroke-width="1.2" stroke-dasharray="4 3.3"/>
<path d="M346.5 405.9 l6.5 -2.6 v5.2 z" fill="#fff"/>
<line x1="368" y1="451.9" x2="322" y2="451.9" stroke="#fff" stroke-width="1.2" stroke-dasharray="4 3.3"/>
<path d="M316 451.9 l6.5 -2.6 v5.2 z" fill="#fff"/>
<line x1="368" y1="497.7" x2="274" y2="497.7" stroke="#fff" stroke-width="1.2" stroke-dasharray="4 3.3"/>
<path d="M268 497.7 l6.5 -2.6 v5.2 z" fill="#fff"/>
<text x="371.5" y="347.6" font-size="7.4" text-anchor="end" fill="#fff" >(ii) R to L</text>
<text x="222" y="347.8" font-size="7" text-anchor="start" fill="#fff" >0s</text>
<text x="222" y="393.8" font-size="7" text-anchor="start" fill="#fff" >5s</text>
<text x="222" y="439.8" font-size="7" text-anchor="start" fill="#fff" >10s</text>
<text x="222" y="485.8" font-size="7" text-anchor="start" fill="#fff" >15s</text>
<text x="379.1" y="363.3" font-size="9" text-anchor="start" fill="#222" >OFF</text>
<text x="379.6" y="409.1" font-size="9" text-anchor="start" fill="#5a3aa6" >ON</text>
<text x="379.6" y="455.1" font-size="9" text-anchor="start" fill="#5a3aa6" >ON</text>
<text x="379.6" y="501.1" font-size="9" text-anchor="start" fill="#5a3aa6" >ON</text>
<text x="365.3" y="514.3" font-size="6" text-anchor="middle" fill="#fff" >5 mm</text>
<rect x="357.8" y="516" width="15" height="1.6" fill="#fff"/>
<rect x="432.8" y="340" width="160.5" height="41" fill="#060407"/>
<rect x="432.8" y="386" width="160.5" height="41" fill="#060407"/>
<rect x="432.8" y="432" width="160.5" height="41" fill="#060407"/>
<rect x="432.8" y="478" width="160.5" height="41" fill="#060407"/>
<rect x="432.8" y="351.5" width="160.5" height="18" fill="#0b0a0b"/>
<g filter="url(#b1)"><path d="M438.8 352 q-5 9 0 18" stroke="#4a4846" stroke-width="2.6" fill="none"/><path d="M588.3 352 q4 9 0 18" stroke="#44423f" stroke-width="2.4" fill="none"/></g>
<rect x="432.8" y="396.8" width="101.115" height="19.2" fill="url(#glowF)"/>
<defs><linearGradient id="st432_386t" gradientUnits="userSpaceOnUse" x1="438.8" x2="518.74775" y1="0" y2="0"><stop offset="0" stop-color="#8a4078" stop-opacity="0.9"/><stop offset="1" stop-color="#8a4078" stop-opacity="0"/></linearGradient>
<linearGradient id="st432_386b" gradientUnits="userSpaceOnUse" x1="438.8" x2="518.74775" y1="0" y2="0"><stop offset="0" stop-color="#b03462" stop-opacity="1"/><stop offset="1" stop-color="#b03462" stop-opacity="0"/></linearGradient></defs>
<g filter="url(#b05)">
<rect x="438.8" y="397.2" width="79.94774999999998" height="1.6" fill="url(#st432_386t)"/>
<rect x="438.8" y="413.6" width="79.94774999999998" height="1.9" fill="url(#st432_386b)"/>
<rect x="438.8" y="401.5" width="39.973874999999964" height="0.9" fill="url(#st432_386t)" opacity="0.45"/>
<rect x="438.8" y="409.8" width="39.973874999999964" height="0.9" fill="url(#st432_386b)" opacity="0.4"/>
</g>
<g filter="url(#b05)"><rect x="432.8" y="396.8" width="13" height="19.2" fill="url(#whiteL)"/><rect x="432.3" y="397.4" width="4.2" height="18" fill="#fff"/>
<rect x="584.3" y="397.2" width="9" height="18.6" fill="url(#pinkbar)"/></g>
<rect x="432.8" y="442.8" width="121.98" height="19.2" fill="url(#glowF)"/>
<defs><linearGradient id="st432_432t" gradientUnits="userSpaceOnUse" x1="438.8" x2="536.4830000000001" y1="0" y2="0"><stop offset="0" stop-color="#8a4078" stop-opacity="0.9"/><stop offset="1" stop-color="#8a4078" stop-opacity="0"/></linearGradient>
<linearGradient id="st432_432b" gradientUnits="userSpaceOnUse" x1="438.8" x2="536.4830000000001" y1="0" y2="0"><stop offset="0" stop-color="#b03462" stop-opacity="1"/><stop offset="1" stop-color="#b03462" stop-opacity="0"/></linearGradient></defs>
<g filter="url(#b05)">
<rect x="438.8" y="443.2" width="97.68300000000005" height="1.6" fill="url(#st432_432t)"/>
<rect x="438.8" y="459.6" width="97.68300000000005" height="1.9" fill="url(#st432_432b)"/>
<rect x="438.8" y="447.5" width="48.84150000000005" height="0.9" fill="url(#st432_432t)" opacity="0.45"/>
<rect x="438.8" y="455.8" width="48.84150000000005" height="0.9" fill="url(#st432_432b)" opacity="0.4"/>
</g>
<g filter="url(#b05)"><rect x="432.8" y="442.8" width="13" height="19.2" fill="url(#whiteL)"/><rect x="432.3" y="443.4" width="4.2" height="18" fill="#fff"/>
<rect x="584.3" y="443.2" width="9" height="18.6" fill="url(#pinkbar)"/></g>
<rect x="432.8" y="488.8" width="142.845" height="19.2" fill="url(#glowF)"/>
<defs><linearGradient id="st432_478t" gradientUnits="userSpaceOnUse" x1="438.8" x2="554.21825" y1="0" y2="0"><stop offset="0" stop-color="#8a4078" stop-opacity="0.9"/><stop offset="1" stop-color="#8a4078" stop-opacity="0"/></linearGradient>
<linearGradient id="st432_478b" gradientUnits="userSpaceOnUse" x1="438.8" x2="554.21825" y1="0" y2="0"><stop offset="0" stop-color="#b03462" stop-opacity="1"/><stop offset="1" stop-color="#b03462" stop-opacity="0"/></linearGradient></defs>
<g filter="url(#b05)">
<rect x="438.8" y="489.2" width="115.41825" height="1.6" fill="url(#st432_478t)"/>
<rect x="438.8" y="505.6" width="115.41825" height="1.9" fill="url(#st432_478b)"/>
<rect x="438.8" y="493.5" width="57.70912500000003" height="0.9" fill="url(#st432_478t)" opacity="0.45"/>
<rect x="438.8" y="501.8" width="57.70912500000003" height="0.9" fill="url(#st432_478b)" opacity="0.4"/>
</g>
<g filter="url(#b05)"><rect x="432.8" y="488.8" width="13" height="19.2" fill="url(#whiteL)"/><rect x="432.3" y="489.4" width="4.2" height="18" fill="#fff"/>
<rect x="584.3" y="489.2" width="9" height="18.6" fill="url(#pinkbar)"/></g>
<g fill="#bcbcbc" stroke="#4a4a4a" stroke-width="0.45">
<circle cx="447.7" cy="352.6" r="1.22"/>
<circle cx="450.4" cy="352.7" r="1.22"/>
<circle cx="453.1" cy="352.4" r="1.22"/>
<circle cx="455.5" cy="352.8" r="1.22"/>
<circle cx="458.2" cy="352.5" r="1.22"/>
<circle cx="461.2" cy="352.6" r="1.22"/>
<circle cx="463.7" cy="352.6" r="1.22"/>
<circle cx="466.2" cy="352.5" r="1.22"/>
<circle cx="449.2" cy="355.1" r="1.22"/>
<circle cx="451.8" cy="355.0" r="1.22"/>
<circle cx="454.5" cy="354.7" r="1.22"/>
<circle cx="457.1" cy="355.0" r="1.22"/>
<circle cx="459.5" cy="354.7" r="1.22"/>
<circle cx="462.4" cy="354.9" r="1.22"/>
<circle cx="465.0" cy="355.1" r="1.22"/>
<circle cx="467.6" cy="355.1" r="1.22"/>
<circle cx="447.8" cy="357.3" r="1.22"/>
<circle cx="450.4" cy="357.4" r="1.22"/>
<circle cx="453.3" cy="357.1" r="1.22"/>
<circle cx="455.5" cy="357.1" r="1.22"/>
<circle cx="458.6" cy="357.2" r="1.22"/>
<circle cx="461.0" cy="357.1" r="1.22"/>
<circle cx="463.6" cy="357.2" r="1.22"/>
<circle cx="466.1" cy="357.3" r="1.22"/>
<circle cx="449.2" cy="359.7" r="1.22"/>
<circle cx="451.9" cy="359.7" r="1.22"/>
<circle cx="454.6" cy="359.7" r="1.22"/>
<circle cx="457.1" cy="359.4" r="1.22"/>
<circle cx="459.8" cy="359.7" r="1.22"/>
<circle cx="462.5" cy="359.5" r="1.22"/>
<circle cx="465.0" cy="359.4" r="1.22"/>
<circle cx="448.0" cy="361.8" r="1.22"/>
<circle cx="450.4" cy="361.6" r="1.22"/>
<circle cx="453.3" cy="362.0" r="1.22"/>
<circle cx="455.5" cy="361.9" r="1.22"/>
<circle cx="458.3" cy="361.7" r="1.22"/>
<circle cx="460.8" cy="361.9" r="1.22"/>
<circle cx="463.7" cy="361.6" r="1.22"/>
<circle cx="466.2" cy="361.6" r="1.22"/>
<circle cx="446.6" cy="364.1" r="1.22"/>
<circle cx="449.3" cy="364.3" r="1.22"/>
<circle cx="451.8" cy="364.3" r="1.22"/>
<circle cx="454.3" cy="364.0" r="1.22"/>
<circle cx="457.1" cy="363.9" r="1.22"/>
<circle cx="459.5" cy="364.1" r="1.22"/>
<circle cx="462.3" cy="364.0" r="1.22"/>
<circle cx="464.6" cy="364.3" r="1.22"/>
<circle cx="467.4" cy="364.3" r="1.22"/>
<circle cx="445.4" cy="366.4" r="1.22"/>
<circle cx="447.8" cy="366.4" r="1.22"/>
<circle cx="450.5" cy="366.5" r="1.22"/>
<circle cx="453.1" cy="366.5" r="1.22"/>
<circle cx="455.9" cy="366.4" r="1.22"/>
<circle cx="458.3" cy="366.5" r="1.22"/>
<circle cx="460.8" cy="366.3" r="1.22"/>
<circle cx="463.8" cy="366.4" r="1.22"/>
<circle cx="466.2" cy="366.2" r="1.22"/>
<circle cx="468.8" cy="366.5" r="1.22"/>
<circle cx="446.3" cy="368.8" r="1.22"/>
<circle cx="449.2" cy="368.5" r="1.22"/>
<circle cx="451.8" cy="368.7" r="1.22"/>
<circle cx="454.5" cy="368.7" r="1.22"/>
<circle cx="457.1" cy="368.8" r="1.22"/>
<circle cx="459.4" cy="368.5" r="1.22"/>
<circle cx="462.3" cy="368.9" r="1.22"/>
<circle cx="464.7" cy="368.7" r="1.22"/>
<circle cx="467.5" cy="368.6" r="1.22"/>
</g>
<g fill="#bcbcbc" stroke="#4a4a4a" stroke-width="0.45">
<circle cx="469.2" cy="398.9" r="1.22"/>
<circle cx="471.8" cy="399.1" r="1.22"/>
<circle cx="474.4" cy="399.0" r="1.22"/>
<circle cx="477.3" cy="398.8" r="1.22"/>
<circle cx="479.8" cy="399.1" r="1.22"/>
<circle cx="482.3" cy="398.9" r="1.22"/>
<circle cx="465.5" cy="401.2" r="1.22"/>
<circle cx="467.8" cy="401.3" r="1.22"/>
<circle cx="470.7" cy="401.2" r="1.22"/>
<circle cx="473.1" cy="401.3" r="1.22"/>
<circle cx="476.0" cy="401.3" r="1.22"/>
<circle cx="478.6" cy="401.2" r="1.22"/>
<circle cx="481.0" cy="401.4" r="1.22"/>
<circle cx="483.9" cy="401.3" r="1.22"/>
<circle cx="486.2" cy="401.2" r="1.22"/>
<circle cx="464.0" cy="403.5" r="1.22"/>
<circle cx="466.8" cy="403.8" r="1.22"/>
<circle cx="469.1" cy="403.5" r="1.22"/>
<circle cx="472.0" cy="403.7" r="1.22"/>
<circle cx="474.7" cy="403.6" r="1.22"/>
<circle cx="476.9" cy="403.5" r="1.22"/>
<circle cx="479.9" cy="403.5" r="1.22"/>
<circle cx="482.3" cy="403.6" r="1.22"/>
<circle cx="484.9" cy="403.6" r="1.22"/>
<circle cx="487.8" cy="403.5" r="1.22"/>
<circle cx="465.1" cy="406.1" r="1.22"/>
<circle cx="468.1" cy="406.1" r="1.22"/>
<circle cx="470.5" cy="406.1" r="1.22"/>
<circle cx="473.4" cy="405.8" r="1.22"/>
<circle cx="475.9" cy="406.1" r="1.22"/>
<circle cx="478.5" cy="405.9" r="1.22"/>
<circle cx="480.9" cy="405.9" r="1.22"/>
<circle cx="483.5" cy="405.7" r="1.22"/>
<circle cx="486.3" cy="405.8" r="1.22"/>
<circle cx="464.2" cy="408.0" r="1.22"/>
<circle cx="466.8" cy="408.3" r="1.22"/>
<circle cx="469.5" cy="408.4" r="1.22"/>
<circle cx="472.1" cy="408.3" r="1.22"/>
<circle cx="474.3" cy="408.3" r="1.22"/>
<circle cx="477.0" cy="408.1" r="1.22"/>
<circle cx="479.8" cy="408.2" r="1.22"/>
<circle cx="482.3" cy="408.4" r="1.22"/>
<circle cx="485.0" cy="408.2" r="1.22"/>
<circle cx="487.5" cy="408.4" r="1.22"/>
<circle cx="465.3" cy="410.6" r="1.22"/>
<circle cx="467.9" cy="410.4" r="1.22"/>
<circle cx="470.6" cy="410.6" r="1.22"/>
<circle cx="473.0" cy="410.6" r="1.22"/>
<circle cx="476.0" cy="410.6" r="1.22"/>
<circle cx="478.6" cy="410.3" r="1.22"/>
<circle cx="481.1" cy="410.7" r="1.22"/>
<circle cx="483.4" cy="410.4" r="1.22"/>
<circle cx="486.2" cy="410.5" r="1.22"/>
<circle cx="466.6" cy="412.8" r="1.22"/>
<circle cx="469.4" cy="412.6" r="1.22"/>
<circle cx="471.7" cy="412.7" r="1.22"/>
<circle cx="474.3" cy="412.6" r="1.22"/>
<circle cx="477.4" cy="413.0" r="1.22"/>
<circle cx="479.5" cy="412.8" r="1.22"/>
<circle cx="482.3" cy="412.7" r="1.22"/>
<circle cx="484.9" cy="412.9" r="1.22"/>
</g>
<g fill="#bcbcbc" stroke="#4a4a4a" stroke-width="0.45">
<circle cx="511.1" cy="445.6" r="1.22"/>
<circle cx="513.5" cy="445.6" r="1.22"/>
<circle cx="516.1" cy="445.6" r="1.22"/>
<circle cx="519.0" cy="445.6" r="1.22"/>
<circle cx="521.3" cy="445.5" r="1.22"/>
<circle cx="524.1" cy="445.7" r="1.22"/>
<circle cx="526.9" cy="445.6" r="1.22"/>
<circle cx="529.6" cy="445.7" r="1.22"/>
<circle cx="507.1" cy="447.9" r="1.22"/>
<circle cx="509.7" cy="448.0" r="1.22"/>
<circle cx="512.3" cy="448.0" r="1.22"/>
<circle cx="515.0" cy="447.8" r="1.22"/>
<circle cx="517.6" cy="448.0" r="1.22"/>
<circle cx="520.0" cy="447.9" r="1.22"/>
<circle cx="522.8" cy="448.1" r="1.22"/>
<circle cx="525.7" cy="447.9" r="1.22"/>
<circle cx="528.3" cy="448.0" r="1.22"/>
<circle cx="530.6" cy="447.9" r="1.22"/>
<circle cx="533.1" cy="448.0" r="1.22"/>
<circle cx="505.9" cy="450.4" r="1.22"/>
<circle cx="508.6" cy="450.3" r="1.22"/>
<circle cx="511.2" cy="450.2" r="1.22"/>
<circle cx="513.5" cy="450.3" r="1.22"/>
<circle cx="516.1" cy="450.1" r="1.22"/>
<circle cx="519.1" cy="450.0" r="1.22"/>
<circle cx="521.3" cy="450.1" r="1.22"/>
<circle cx="524.4" cy="450.1" r="1.22"/>
<circle cx="526.5" cy="450.4" r="1.22"/>
<circle cx="529.2" cy="450.4" r="1.22"/>
<circle cx="532.1" cy="450.4" r="1.22"/>
<circle cx="534.9" cy="450.3" r="1.22"/>
<circle cx="507.3" cy="452.3" r="1.22"/>
<circle cx="509.9" cy="452.5" r="1.22"/>
<circle cx="512.5" cy="452.4" r="1.22"/>
<circle cx="515.1" cy="452.7" r="1.22"/>
<circle cx="517.4" cy="452.4" r="1.22"/>
<circle cx="520.3" cy="452.7" r="1.22"/>
<circle cx="522.7" cy="452.4" r="1.22"/>
<circle cx="525.3" cy="452.6" r="1.22"/>
<circle cx="528.2" cy="452.5" r="1.22"/>
<circle cx="530.6" cy="452.5" r="1.22"/>
<circle cx="533.3" cy="452.5" r="1.22"/>
<circle cx="505.6" cy="454.8" r="1.22"/>
<circle cx="508.7" cy="454.8" r="1.22"/>
<circle cx="511.2" cy="454.7" r="1.22"/>
<circle cx="513.8" cy="454.9" r="1.22"/>
<circle cx="516.4" cy="454.8" r="1.22"/>
<circle cx="518.9" cy="454.9" r="1.22"/>
<circle cx="521.7" cy="454.7" r="1.22"/>
<circle cx="524.0" cy="454.9" r="1.22"/>
<circle cx="527.0" cy="454.8" r="1.22"/>
<circle cx="529.4" cy="454.9" r="1.22"/>
<circle cx="531.9" cy="454.7" r="1.22"/>
<circle cx="534.5" cy="454.9" r="1.22"/>
<circle cx="509.7" cy="457.0" r="1.22"/>
<circle cx="512.5" cy="457.3" r="1.22"/>
<circle cx="514.9" cy="457.2" r="1.22"/>
<circle cx="517.6" cy="457.3" r="1.22"/>
<circle cx="520.3" cy="457.0" r="1.22"/>
<circle cx="522.7" cy="456.9" r="1.22"/>
<circle cx="525.5" cy="457.1" r="1.22"/>
<circle cx="527.9" cy="457.1" r="1.22"/>
<circle cx="530.6" cy="457.2" r="1.22"/>
</g>
<g fill="#bcbcbc" stroke="#4a4a4a" stroke-width="0.45">
<circle cx="539.3" cy="492.0" r="1.22"/>
<circle cx="542.1" cy="491.9" r="1.22"/>
<circle cx="544.7" cy="492.0" r="1.22"/>
<circle cx="547.5" cy="491.8" r="1.22"/>
<circle cx="552.6" cy="491.9" r="1.22"/>
<circle cx="555.4" cy="491.8" r="1.22"/>
<circle cx="557.9" cy="492.0" r="1.22"/>
<circle cx="560.4" cy="491.7" r="1.22"/>
<circle cx="535.4" cy="494.2" r="1.22"/>
<circle cx="538.2" cy="494.3" r="1.22"/>
<circle cx="540.9" cy="494.0" r="1.22"/>
<circle cx="543.2" cy="494.0" r="1.22"/>
<circle cx="545.9" cy="494.2" r="1.22"/>
<circle cx="548.8" cy="494.3" r="1.22"/>
<circle cx="551.1" cy="494.3" r="1.22"/>
<circle cx="553.8" cy="494.1" r="1.22"/>
<circle cx="556.6" cy="494.0" r="1.22"/>
<circle cx="558.9" cy="494.3" r="1.22"/>
<circle cx="561.6" cy="494.1" r="1.22"/>
<circle cx="564.4" cy="494.2" r="1.22"/>
<circle cx="534.0" cy="496.4" r="1.22"/>
<circle cx="536.8" cy="496.4" r="1.22"/>
<circle cx="539.3" cy="496.5" r="1.22"/>
<circle cx="542.3" cy="496.4" r="1.22"/>
<circle cx="544.7" cy="496.3" r="1.22"/>
<circle cx="547.2" cy="496.5" r="1.22"/>
<circle cx="549.7" cy="496.6" r="1.22"/>
<circle cx="552.8" cy="496.3" r="1.22"/>
<circle cx="555.4" cy="496.4" r="1.22"/>
<circle cx="557.9" cy="496.5" r="1.22"/>
<circle cx="560.3" cy="496.5" r="1.22"/>
<circle cx="563.1" cy="496.5" r="1.22"/>
<circle cx="565.5" cy="496.5" r="1.22"/>
<circle cx="535.8" cy="498.8" r="1.22"/>
<circle cx="538.2" cy="498.6" r="1.22"/>
<circle cx="540.8" cy="498.7" r="1.22"/>
<circle cx="543.5" cy="498.8" r="1.22"/>
<circle cx="546.0" cy="498.6" r="1.22"/>
<circle cx="548.7" cy="498.8" r="1.22"/>
<circle cx="551.1" cy="498.9" r="1.22"/>
<circle cx="553.9" cy="498.6" r="1.22"/>
<circle cx="556.7" cy="498.6" r="1.22"/>
<circle cx="559.0" cy="498.8" r="1.22"/>
<circle cx="561.8" cy="498.7" r="1.22"/>
<circle cx="564.4" cy="498.7" r="1.22"/>
<circle cx="534.1" cy="500.9" r="1.22"/>
<circle cx="536.6" cy="501.1" r="1.22"/>
<circle cx="539.6" cy="501.0" r="1.22"/>
<circle cx="542.2" cy="501.0" r="1.22"/>
<circle cx="544.6" cy="501.0" r="1.22"/>
<circle cx="547.5" cy="500.8" r="1.22"/>
<circle cx="549.9" cy="500.9" r="1.22"/>
<circle cx="552.7" cy="501.0" r="1.22"/>
<circle cx="555.1" cy="501.0" r="1.22"/>
<circle cx="557.8" cy="501.1" r="1.22"/>
<circle cx="560.3" cy="501.2" r="1.22"/>
<circle cx="562.8" cy="500.9" r="1.22"/>
<circle cx="565.5" cy="500.9" r="1.22"/>
<circle cx="538.3" cy="503.4" r="1.22"/>
<circle cx="540.6" cy="503.2" r="1.22"/>
<circle cx="543.3" cy="503.4" r="1.22"/>
<circle cx="546.2" cy="503.4" r="1.22"/>
<circle cx="548.7" cy="503.2" r="1.22"/>
<circle cx="551.2" cy="503.2" r="1.22"/>
<circle cx="553.9" cy="503.3" r="1.22"/>
<circle cx="556.3" cy="503.2" r="1.22"/>
<circle cx="559.3" cy="503.1" r="1.22"/>
<circle cx="561.9" cy="503.5" r="1.22"/>
</g>
<path d="M523 507 Q546 504.6 569.5 507" stroke="#4a4a48" stroke-width="0.8" fill="none"/>
<line x1="438.5" y1="405.8" x2="455.5" y2="405.8" stroke="#fff" stroke-width="1.2" stroke-dasharray="4 3.3"/>
<path d="M461.5 405.8 l-6.5 -2.6 v5.2 z" fill="#fff"/>
<line x1="439.5" y1="452.3" x2="491.5" y2="452.3" stroke="#fff" stroke-width="1.2" stroke-dasharray="4 3.3"/>
<path d="M497.5 452.3 l-6.5 -2.6 v5.2 z" fill="#fff"/>
<line x1="439.5" y1="497.4" x2="524" y2="497.4" stroke="#fff" stroke-width="1.2" stroke-dasharray="4 3.3"/>
<path d="M530 497.4 l-6.5 -2.6 v5.2 z" fill="#fff"/>
<text x="586.8" y="347.8" font-size="7" text-anchor="end" fill="#fff" >0s</text>
<text x="586.8" y="393.8" font-size="7" text-anchor="end" fill="#fff" >20s</text>
<text x="586.8" y="439.8" font-size="7" text-anchor="end" fill="#fff" >40s</text>
<text x="586.8" y="485.8" font-size="7" text-anchor="end" fill="#fff" >60s</text>
<text x="430" y="363.3" font-size="9" text-anchor="end" fill="#222" >OFF</text>
<text x="430" y="409.1" font-size="9" text-anchor="end" fill="#5a3aa6" >ON</text>
<text x="430" y="455.1" font-size="9" text-anchor="end" fill="#5a3aa6" >ON</text>
<text x="430" y="501.1" font-size="9" text-anchor="end" fill="#5a3aa6" >ON</text>
<text x="583" y="514.3" font-size="6" text-anchor="middle" fill="#fff" >5 mm</text>
<rect x="575.3" y="516.2" width="15.3" height="1.5" fill="#fff"/>
</g>
</svg></body></html>
